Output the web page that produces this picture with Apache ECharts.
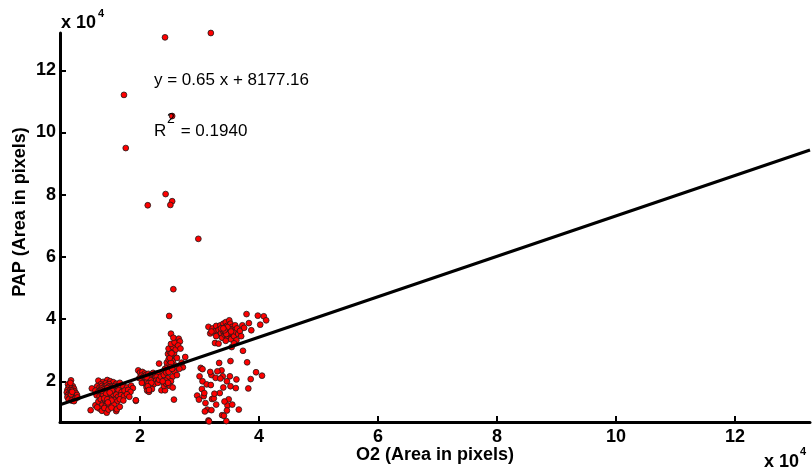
<!DOCTYPE html>
<html>
<head>
<meta charset="utf-8">
<script src="https://cdn.jsdelivr.net/npm/echarts@6/dist/echarts.min.js"></script>
<style>
  html, body { margin: 0; padding: 0; background: #fff; }
  #chart { width: 812px; height: 475px; }
</style>
</head>
<body>
<div id="chart"></div>
<script>
// values in units of 1e4 pixels
const xTicks = [2, 4, 6, 8, 10, 12]
const yTicks = [2, 4, 6, 8, 10, 12]
const xRange = [0.655, 13.26]
const yRange = [0.69, 13.2]

// fit: y = 0.65 x + 8177.16  (8177.16 px = 0.817716 e4)
const slope = 0.65
const intercept = 0.817716

const outliers = [
  [2.42, 13.06], [3.19, 13.2], [1.73, 11.21], [2.54, 10.53], [1.76, 9.5], [2.43, 8.02],
  [2.13, 7.66], [2.54, 7.79], [2.51, 7.67], [2.98, 6.58], [2.56, 4.96], [2.49, 4.1]
]

const groupA = [
  [0.84, 2.03], [0.79, 1.9], [0.83, 1.86], [0.87, 1.84], [0.8, 1.8], [0.85, 1.78], [0.89, 1.76],
  [0.78, 1.72], [0.82, 1.7], [0.86, 1.71], [0.9, 1.68], [0.77, 1.64], [0.81, 1.62], [0.84, 1.63],
  [0.88, 1.6], [0.92, 1.62], [0.79, 1.56], [0.83, 1.55], [0.86, 1.53], [0.9, 1.52], [0.94, 1.56],
  [0.78, 1.49], [0.82, 1.47], [0.87, 1.45], [0.91, 1.44], [0.8, 1.41], [0.85, 1.38], [0.89, 1.36],
  [0.95, 1.48], [0.83, 1.95], [0.84, 1.58], [0.86, 1.66]
]

const groupB = [
  [1.3, 2.02], [1.38, 1.98], [1.45, 2.04], [1.5, 2.0], [1.55, 1.97], [1.42, 1.93], [1.34, 1.9],
  [1.6, 1.92], [1.66, 1.95], [1.48, 1.91],
  [1.19, 1.77], [1.28, 1.84], [1.32, 1.8], [1.36, 1.85], [1.4, 1.82], [1.44, 1.86], [1.47, 1.79],
  [1.51, 1.84], [1.54, 1.8], [1.58, 1.85], [1.62, 1.82], [1.67, 1.79], [1.72, 1.84], [1.78, 1.8],
  [1.85, 1.86], [1.88, 1.78], [1.41, 1.76], [1.35, 1.77],
  [1.25, 1.7], [1.3, 1.66], [1.34, 1.72], [1.38, 1.68], [1.42, 1.71], [1.45, 1.66], [1.49, 1.72],
  [1.52, 1.67], [1.56, 1.73], [1.6, 1.68], [1.64, 1.71], [1.69, 1.65], [1.74, 1.7], [1.8, 1.72],
  [1.84, 1.66], [1.46, 1.62], [1.4, 1.63], [1.55, 1.61], [1.33, 1.61],
  [1.27, 1.55], [1.32, 1.52], [1.36, 1.57], [1.4, 1.5], [1.44, 1.55], [1.48, 1.58], [1.5, 1.48],
  [1.55, 1.53], [1.6, 1.57], [1.63, 1.5], [1.68, 1.55], [1.73, 1.52], [1.78, 1.58], [1.82, 1.5],
  [1.93, 1.37],
  [1.25, 1.23], [1.3, 1.35], [1.34, 1.42], [1.38, 1.3], [1.41, 1.4], [1.44, 1.28], [1.47, 1.36],
  [1.5, 1.43], [1.53, 1.32], [1.57, 1.4], [1.62, 1.36], [1.66, 1.42], [1.72, 1.38], [1.36, 1.22],
  [1.42, 1.2], [1.48, 1.24], [1.56, 1.25],
  [1.17, 1.07], [1.32, 1.12], [1.36, 1.05], [1.4, 1.14], [1.44, 0.99], [1.47, 1.09], [1.52, 1.15],
  [1.6, 1.04], [1.61, 1.1], [1.66, 1.18], [1.28, 1.16],
  [1.42, 1.74], [1.44, 1.7], [1.46, 1.75], [1.48, 1.68], [1.43, 1.65], [1.39, 1.73], [1.47, 1.82],
  [1.5, 1.76], [1.53, 1.7], [1.37, 1.64], [1.45, 1.78], [1.41, 1.68], [1.38, 1.58], [1.43, 1.6],
  [1.49, 1.64], [1.35, 1.69], [1.4, 1.45], [1.45, 1.42], [1.52, 1.38], [1.46, 1.32]
]

const groupC = [
  [1.97, 2.35], [2.0, 2.28], [2.04, 2.3], [2.08, 2.25], [2.02, 2.18], [2.06, 2.15], [2.1, 2.2],
  [2.14, 2.24], [2.18, 2.2], [2.22, 2.27], [2.26, 2.22], [2.3, 2.25], [2.05, 2.08], [2.09, 2.05],
  [2.12, 2.1], [2.15, 2.05], [2.18, 2.12], [2.21, 2.07], [2.25, 2.1], [2.28, 2.14], [2.08, 1.98],
  [2.11, 1.95], [2.14, 2.0], [2.17, 1.97], [2.2, 2.01], [2.24, 1.96], [2.27, 2.02], [2.1, 1.9],
  [2.13, 1.86], [2.16, 1.92], [2.19, 1.88], [2.23, 1.9], [2.11, 1.8], [2.14, 1.76], [2.17, 1.82],
  [2.12, 1.7], [2.15, 1.66], [2.2, 1.75], [2.03, 1.95], [1.99, 2.1], [2.31, 2.0], [2.16, 2.16],
  [1.93, 1.39],
  [2.13, 2.03], [2.15, 2.0], [2.12, 1.98], [2.16, 2.08], [2.18, 2.03], [2.14, 1.93], [2.11, 2.13],
  [2.19, 1.95], [2.13, 1.84], [2.15, 1.72]
]

const groupD = [
  [2.3, 1.95], [2.32, 2.05], [2.35, 2.15], [2.32, 2.57], [2.36, 1.71], [2.38, 2.3], [2.4, 2.2],
  [2.42, 2.4], [2.44, 2.28], [2.46, 2.5], [2.42, 1.71], [2.4, 1.85], [2.44, 1.92], [2.47, 2.1],
  [2.49, 2.35], [2.45, 2.6], [2.48, 2.7], [2.5, 2.55], [2.52, 2.8], [2.47, 2.88], [2.5, 2.95],
  [2.53, 3.0], [2.48, 3.05], [2.55, 2.65], [2.57, 2.9], [2.55, 3.1], [2.52, 3.2], [2.58, 3.25],
  [2.6, 3.02], [2.62, 2.75], [2.6, 2.5], [2.58, 2.3], [2.55, 2.15], [2.52, 2.0], [2.5, 1.85],
  [2.55, 1.8], [2.57, 1.41], [2.52, 3.53], [2.65, 3.37], [2.67, 3.28], [2.64, 3.15], [2.68, 3.05],
  [2.72, 2.45], [2.76, 2.78], [2.7, 2.6], [2.66, 2.4], [2.62, 2.2], [2.43, 2.02], [2.47, 1.95],
  [2.38, 2.0], [2.56, 3.4],
  [2.52, 2.6], [2.5, 2.75], [2.53, 2.9], [2.51, 2.45], [2.48, 2.3], [2.54, 2.4]
]

const groupE = [
  [3.15, 3.75], [3.18, 3.54], [3.22, 3.7], [3.26, 3.23], [3.25, 3.6], [3.28, 3.78], [3.3, 3.5],
  [3.32, 3.65], [3.32, 3.21], [3.35, 3.8], [3.36, 3.55], [3.38, 3.68], [3.38, 3.4], [3.4, 3.85],
  [3.4, 3.6], [3.42, 3.72], [3.42, 3.5], [3.44, 3.9], [3.44, 3.65], [3.45, 3.58], [3.46, 3.78],
  [3.47, 3.45], [3.48, 3.68], [3.48, 3.6], [3.5, 3.96], [3.5, 3.72], [3.5, 3.52], [3.52, 3.85],
  [3.52, 3.64], [3.53, 3.35], [3.54, 3.1], [3.55, 3.75], [3.55, 3.55], [3.57, 3.68], [3.58, 3.45],
  [3.6, 3.8], [3.6, 3.6], [3.62, 3.32], [3.63, 3.7], [3.65, 3.52], [3.68, 3.62], [3.72, 3.8],
  [3.7, 3.45], [3.79, 4.16], [3.98, 4.11], [4.08, 4.09], [4.12, 3.96], [4.02, 3.82], [3.83, 3.87],
  [3.87, 3.64], [3.75, 3.72], [3.46, 3.62], [3.43, 3.6], [3.41, 3.68], [3.47, 3.55], [3.36, 3.7],
  [3.28, 3.45], [3.2, 3.6], [3.44, 3.3], [3.58, 3.22],
  [3.45, 3.65], [3.47, 3.62], [3.44, 3.6], [3.48, 3.66], [3.46, 3.7], [3.5, 3.6], [3.43, 3.56],
  [3.49, 3.57], [3.51, 3.67], [3.45, 3.52], [3.47, 3.74], [3.42, 3.64], [3.53, 3.6], [3.4, 3.7]
]

const groupF = [
  [3.73, 2.98], [3.8, 2.61], [3.95, 2.29], [4.05, 2.18], [3.82, 1.77], [3.86, 2.07], [3.66, 1.09],
  [3.52, 2.65], [3.33, 2.59], [3.37, 2.35], [3.3, 2.32], [3.02, 2.43], [3.05, 2.39], [3.0, 2.16],
  [3.2, 2.2], [3.27, 2.11], [3.39, 2.16], [3.51, 2.16], [3.62, 2.06], [3.46, 2.0], [3.35, 2.09],
  [3.05, 2.0], [3.12, 1.9], [3.19, 1.88], [3.04, 1.75], [2.96, 1.54], [3.07, 1.52], [2.99, 1.41],
  [3.21, 1.43], [3.24, 1.45], [3.34, 1.62], [3.52, 1.84], [3.61, 1.78], [3.49, 1.42], [3.47, 1.22],
  [3.46, 1.06], [3.38, 0.91], [3.41, 0.89], [3.45, 0.72], [3.13, 1.09], [3.09, 1.03], [3.2, 1.07],
  [3.15, 0.74], [3.16, 0.71], [3.1, 1.3], [3.25, 1.6], [3.42, 1.35], [3.55, 1.25], [3.28, 1.25],
  [3.08, 1.62], [3.18, 2.3], [3.4, 1.8]
]

const points = [].concat(groupA, groupB, groupC, groupD, groupE, groupF, outliers)
const fitLine = xRange.map(x => [x, slope * x + intercept])

const FONT = '"Liberation Sans", Arial, sans-serif'

const chart = echarts.init(document.getElementById('chart'), null, { renderer: 'canvas' })

function axis (range, ticks) {
  return {
    type: 'value',
    min: range[0],
    max: range[1],
    axisLine: { show: true, lineStyle: { color: '#000', width: 3 } },
    axisTick: {
      show: true,
      inside: true,
      length: 6,
      customValues: ticks,
      lineStyle: { color: '#000', width: 2 }
    },
    axisLabel: {
      customValues: ticks,
      color: '#000',
      fontFamily: FONT,
      fontWeight: 'bold',
      fontSize: 18
    },
    splitLine: { show: false }
  }
}

const xAxis = axis(xRange, xTicks)
xAxis.axisLabel.margin = 6
const yAxis = axis(yRange, yTicks)
yAxis.axisLabel.margin = 4

chart.setOption({
  animation: false,
  backgroundColor: '#fff',
  grid: { left: 60, right: 2, top: 33, bottom: 53 },
  xAxis: xAxis,
  yAxis: yAxis,
  series: [
    {
      type: 'scatter',
      data: points,
      symbolSize: 5.8,
      itemStyle: { color: '#ff0000', borderColor: '#1a1a1a', borderWidth: 0.8, opacity: 1 },
      z: 2
    },
    {
      type: 'line',
      data: fitLine,
      symbol: 'none',
      lineStyle: { color: '#000', width: 3 },
      z: 3
    }
  ],
  graphic: {
    elements: [
      // axis titles
      { type: 'text', x: 435, y: 446, z: 100,
        style: { text: 'O2 (Area in pixels)', font: 'bold 18px ' + FONT, fill: '#000', align: 'center', verticalAlign: 'top' } },
      { type: 'text', x: 11, y: 212, z: 100, rotation: Math.PI / 2,
        style: { text: 'PAP (Area in pixels)', font: 'bold 18px ' + FONT, fill: '#000', align: 'center', verticalAlign: 'top' } },
      // exponent markers
      { type: 'text', left: 61, top: 14, z: 100, style: { text: 'x 10', font: 'bold 18px ' + FONT, fill: '#000' } },
      { type: 'text', left: 98, top: 8, z: 100, style: { text: '4', font: 'bold 11px ' + FONT, fill: '#000' } },
      { type: 'text', left: 764, top: 453, z: 100, style: { text: 'x 10', font: 'bold 18px ' + FONT, fill: '#000' } },
      { type: 'text', left: 800, top: 446, z: 100, style: { text: '4', font: 'bold 11px ' + FONT, fill: '#000' } },
      // fit annotation
      { type: 'text', left: 154, top: 72, z: 100, style: { text: 'y = 0.65 x + 8177.16', font: '17px ' + FONT, fill: '#000' } },
      { type: 'text', left: 154, top: 123, z: 100, style: { text: 'R', font: '17px ' + FONT, fill: '#000' } },
      { type: 'text', x: 167, y: 112, zlevel: 1, z: 100, style: { text: '2', font: '14px ' + FONT, fill: '#000', align: 'left', verticalAlign: 'top' } },
      { type: 'text', left: 176, top: 123, z: 100, style: { text: ' = 0.1940', font: '17px ' + FONT, fill: '#000' } }
    ]
  }
})
</script>
</body>
</html>
